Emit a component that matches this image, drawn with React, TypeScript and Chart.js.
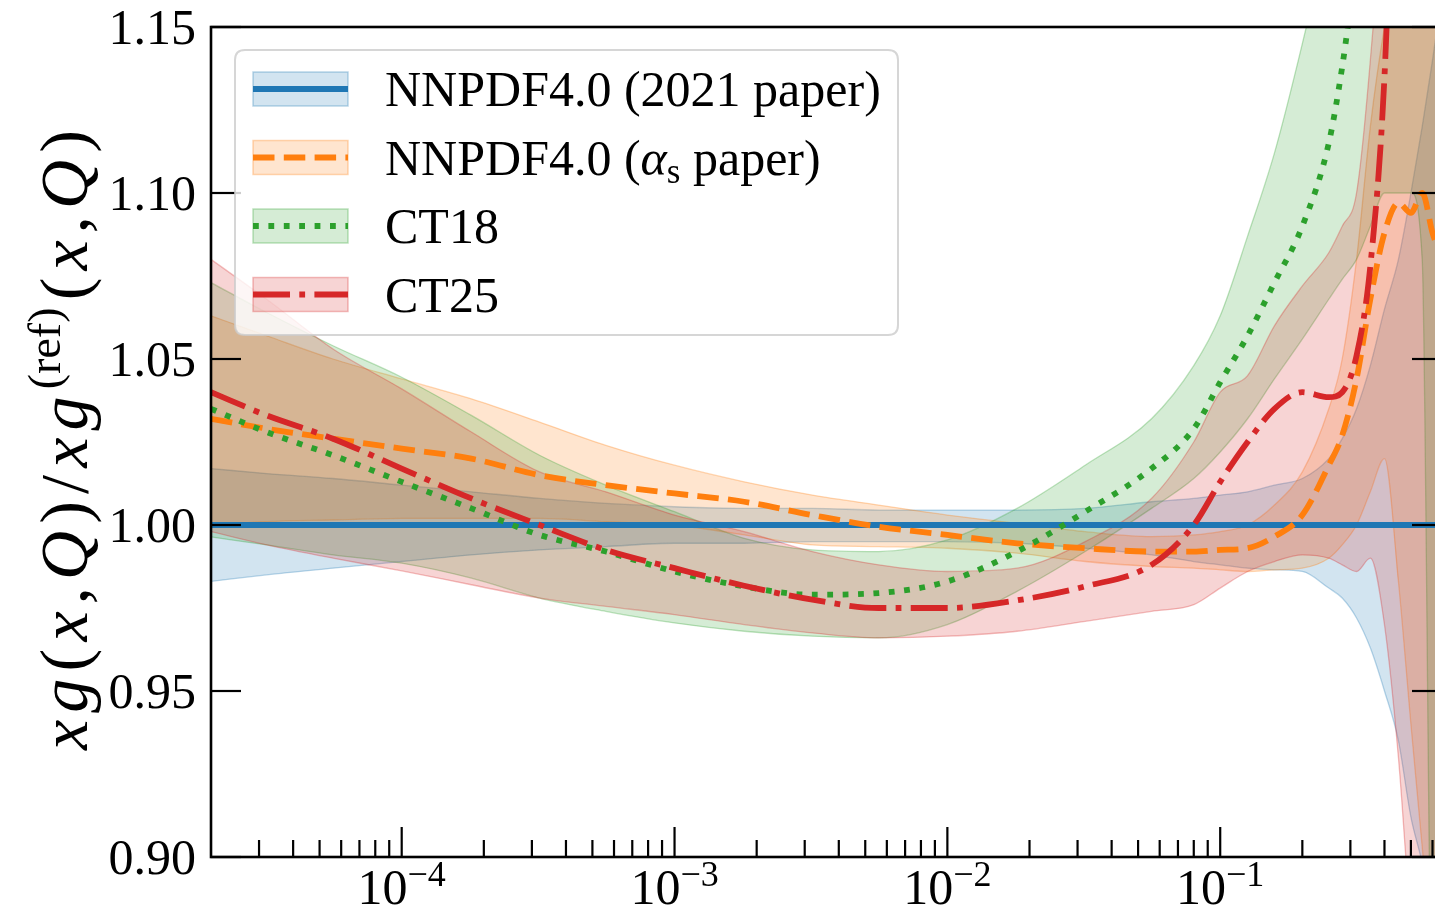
import React, { useEffect, useRef } from "react";
import { Chart, registerables } from "chart.js";

Chart.register(...registerables);

// ---------------- data ----------------
const xValues = [2.0e-5, 3.2e-5, 5.6e-5, 1e-4, 1.8e-4, 3.2e-4, 5.6e-4, 1e-3, 1.8e-3, 3.2e-3, 5.6e-3, 1e-2, 1.8e-2, 3.2e-2, 5.6e-2, 8e-2, 0.1, 0.126, 0.158, 0.2, 0.25, 0.28, 0.316, 0.355, 0.4, 0.45, 0.5, 0.55, 0.6, 0.65];

const nnpdf21Central = [1, 1, 1, 1, 1, 1, 1, 1, 1, 1, 1, 1, 1, 1, 1, 1, 1, 1, 1, 1, 1, 1, 1, 1, 1, 1, 1, 1, 1, 1];
const nnpdf21Lower = [0.983, 0.985, 0.987, 0.989, 0.991, 0.9925, 0.9935, 0.9945, 0.9945, 0.995, 0.995, 0.995, 0.9945, 0.993, 0.991, 0.989, 0.988, 0.987, 0.9865, 0.986, 0.981, 0.978, 0.972, 0.963, 0.95, 0.935, 0.912, 0.898, 0.88, 0.86];
const nnpdf21Upper = [1.017, 1.0155, 1.014, 1.012, 1.01, 1.008, 1.0065, 1.0055, 1.005, 1.005, 1.0045, 1.0045, 1.0045, 1.005, 1.007, 1.008, 1.009, 1.01, 1.012, 1.014, 1.02, 1.026, 1.035, 1.048, 1.065, 1.08, 1.1, 1.12, 1.14, 1.16];

const nnpdfAsCentral = [1.032, 1.029, 1.026, 1.023, 1.02, 1.015, 1.012, 1.0095, 1.007, 1.003, 0.9995, 0.997, 0.9945, 0.993, 0.992, 0.992, 0.9925, 0.993, 0.9965, 1.003, 1.018, 1.027, 1.044, 1.068, 1.088, 1.097, 1.094, 1.1, 1.088, 1.08];
const nnpdfAsLower = [1.0, 1.001, 1.0015, 1.002, 1.002, 1.002, 1.001, 1.0, 0.997, 0.994, 0.9935, 0.993, 0.9915, 0.989, 0.9875, 0.987, 0.9865, 0.986, 0.9865, 0.987, 0.99, 0.994, 1.0, 1.01, 1.02, 0.983, 0.94, 0.903, 0.87, 0.85];
const nnpdfAsUpper = [1.063, 1.057, 1.05, 1.044, 1.038, 1.031, 1.024, 1.018, 1.013, 1.009, 1.006, 1.003, 1.0005, 0.998, 0.9965, 0.997, 0.998, 1.0, 1.006, 1.016, 1.035, 1.05, 1.08, 1.12, 1.15, 1.17, 1.18, 1.18, 1.18, 1.18];

const ct18Central = [1.035, 1.028, 1.021, 1.013, 1.005, 0.997, 0.992, 0.986, 0.9815, 0.979, 0.9795, 0.983, 0.992, 1.004, 1.017, 1.029, 1.043, 1.057, 1.073, 1.09, 1.115, 1.138, 1.17, 1.2, 1.23, 1.26, 1.28, 1.3, 1.31, 1.32];
const ct18Lower = [0.9964, 0.994, 0.991, 0.9885, 0.984, 0.978, 0.974, 0.9705, 0.968, 0.9665, 0.966, 0.97, 0.98, 0.992, 1.005, 1.014, 1.022, 1.032, 1.044, 1.056, 1.068, 1.074, 1.08, 1.09, 1.1, 1.1, 1.1, 1.08, 0.85, 0.85];
const ct18Upper = [1.073, 1.064, 1.054, 1.0445, 1.033, 1.021, 1.012, 1.004, 0.996, 0.9925, 0.992, 0.9955, 1.005, 1.018, 1.032, 1.048, 1.063, 1.087, 1.112, 1.145, 1.18, 1.2, 1.22, 1.25, 1.28, 1.3, 1.3, 1.3, 1.3, 1.3];

const ct25Central = [1.04, 1.033, 1.026, 1.017, 1.008, 1.0, 0.9925, 0.987, 0.9817, 0.9775, 0.975, 0.975, 0.9773, 0.9815, 0.988, 1.0, 1.013, 1.025, 1.035, 1.04, 1.0385, 1.04, 1.051, 1.078, 1.135, 1.25, 1.3, 1.3, 1.3, 1.3];
const ct25Lower = [0.998, 0.994, 0.99, 0.9862, 0.982, 0.978, 0.9755, 0.973, 0.97, 0.9675, 0.966, 0.9665, 0.968, 0.971, 0.974, 0.976, 0.981, 0.986, 0.989, 0.991, 0.99, 0.988, 0.986, 0.99, 0.97, 0.93, 0.88, 0.85, 0.85, 0.85];
const ct25Upper = [1.08, 1.068, 1.053, 1.041, 1.028, 1.016, 1.01, 1.003, 0.998, 0.992, 0.988, 0.986, 0.987, 0.995, 1.008, 1.025, 1.04, 1.045, 1.06, 1.072, 1.082, 1.09, 1.1, 1.14, 1.2, 1.3, 1.3, 1.3, 1.3, 1.3];

const seriesLabels = ["NNPDF4.0 (2021 paper)", "NNPDF4.0 (α_s paper)", "CT18", "CT25"];

const yTicks = [0.9, 0.95, 1.0, 1.05, 1.1, 1.15];
const yTickLabels = ["0.90", "0.95", "1.00", "1.05", "1.10", "1.15"];
const xMajorTicks = [1e-4, 1e-3, 1e-2, 1e-1];
const xMajorExponents = ["−4", "−3", "−2", "−1"];
const xMinorTicks = [3e-5, 4e-5, 5e-5, 6e-5, 7e-5, 8e-5, 9e-5, 2e-4, 3e-4, 4e-4, 5e-4, 6e-4, 7e-4, 8e-4, 9e-4, 2e-3, 3e-3, 4e-3, 5e-3, 6e-3, 7e-3, 8e-3, 9e-3, 2e-2, 3e-2, 4e-2, 5e-2, 6e-2, 7e-2, 8e-2, 9e-2, 2e-1, 3e-1, 4e-1, 5e-1, 6e-1];

// ---------------- styles ----------------
const SERIF = '"Liberation Serif", "DejaVu Serif", serif';
const COLORS = ["#1f77b4", "#ff7f0e", "#2ca02c", "#d62728"];
const LW = 5.8;
const DASHES: number[][] = [[], [21.5, 9.3], [5.8, 9.6], [37, 9.3, 5.8, 9.3]];

function rgba(hex: string, a: number) {
  const n = parseInt(hex.slice(1), 16);
  return `rgba(${(n >> 16) & 255},${(n >> 8) & 255},${n & 255},${a})`;
}

type Run = { t: string; font: string; dy?: number };

function drawRuns(ctx: CanvasRenderingContext2D, runs: Run[], x: number, y: number, align: "left" | "center" | "right", gap = 0) {
  const widths = runs.map((r) => {
    ctx.font = r.font;
    return ctx.measureText(r.t).width;
  });
  const total = widths.reduce((a, b) => a + b, 0) + gap * (runs.length - 1);
  let cx = align === "left" ? x : align === "center" ? x - total / 2 : x - total;
  ctx.textAlign = "left";
  ctx.textBaseline = "alphabetic";
  runs.forEach((r, i) => {
    ctx.font = r.font;
    ctx.fillText(r.t, cx, y + (r.dy || 0));
    cx += widths[i] + gap;
  });
  return total;
}

function labelRuns(label: string, size: number): Run[] {
  const parts = label.split("α_s");
  if (parts.length === 1) return [{ t: label, font: `${size}px ${SERIF}` }];
  return [
    { t: parts[0], font: `${size}px ${SERIF}` },
    { t: "α", font: `italic ${size}px ${SERIF}` },
    { t: "s", font: `${Math.round(size * 0.7)}px ${SERIF}`, dy: 8 },
    { t: parts[1], font: `${size}px ${SERIF}` },
  ];
}

const axesPlugin = {
  id: "mplAxes",
  afterDatasetsDraw(chart: any) {
    const { ctx, chartArea: a, scales } = chart;
    const xs = scales.x;
    const ys = scales.y;
    ctx.save();
    ctx.fillStyle = "#000";
    ctx.strokeStyle = "#000";

    // ticks
    ctx.lineWidth = 2.2;
    ctx.lineCap = "butt";
    ctx.setLineDash([]);
    const seg = (x1: number, y1: number, x2: number, y2: number) => {
      ctx.beginPath();
      ctx.moveTo(x1, y1);
      ctx.lineTo(x2, y2);
      ctx.stroke();
    };
    yTicks.forEach((v) => {
      const py = ys.getPixelForValue(v);
      seg(a.left, py, a.left + 30, py);
      seg(a.right, py, a.right - 30, py);
    });
    xMajorTicks.forEach((v) => {
      const px = xs.getPixelForValue(v);
      seg(px, a.bottom, px, a.bottom - 30);
    });
    xMinorTicks.forEach((v) => {
      const px = xs.getPixelForValue(v);
      seg(px, a.bottom, px, a.bottom - 17);
    });

    // spines
    ctx.lineWidth = 2.6;
    ctx.strokeRect(a.left, a.top, a.right - a.left, a.bottom - a.top);

    // y tick labels
    ctx.font = `50px ${SERIF}`;
    ctx.textAlign = "right";
    ctx.textBaseline = "alphabetic";
    yTicks.forEach((v, i) => {
      const py = ys.getPixelForValue(v);
      ctx.fillText(yTickLabels[i], 196, py + 17);
    });

    // x tick labels
    xMajorTicks.forEach((v, i) => {
      const px = xs.getPixelForValue(v);
      drawRuns(
        ctx,
        [
          { t: "10", font: `50px ${SERIF}` },
          { t: xMajorExponents[i], font: `36px ${SERIF}`, dy: -18 },
        ],
        px,
        904,
        "center"
      );
    });

    // y axis title
    const F = 68;
    const it = `italic ${F}px ${SERIF}`;
    const rm = `${F}px ${SERIF}`;
    const sup = `${Math.round(F * 0.68)}px ${SERIF}`;
    const titleRuns: Run[] = [
      { t: "x", font: it },
      { t: "g", font: it },
      { t: "(", font: rm },
      { t: "x", font: it },
      { t: ",", font: rm },
      { t: "Q", font: it },
      { t: ")", font: rm },
      { t: "/", font: rm },
      { t: "x", font: it },
      { t: "g", font: it },
      { t: "(ref)", font: sup, dy: -27 },
      { t: "(", font: rm },
      { t: "x", font: it },
      { t: ",", font: rm },
      { t: "Q", font: it },
      { t: ")", font: rm },
    ];
    let baseW = 0;
    titleRuns.forEach((r) => {
      ctx.font = r.font;
      baseW += ctx.measureText(r.t).width;
    });
    const gap = Math.max(0, (620 - baseW) / (titleRuns.length - 1));
    ctx.save();
    ctx.translate(87, 440);
    ctx.rotate(-Math.PI / 2);
    drawRuns(ctx, titleRuns, 0, 0, "center", gap);
    ctx.restore();

    // legend
    const lx = 235, ly = 50, lw = 663, lh = 285, rad = 10;
    ctx.beginPath();
    ctx.moveTo(lx + rad, ly);
    ctx.lineTo(lx + lw - rad, ly);
    ctx.quadraticCurveTo(lx + lw, ly, lx + lw, ly + rad);
    ctx.lineTo(lx + lw, ly + lh - rad);
    ctx.quadraticCurveTo(lx + lw, ly + lh, lx + lw - rad, ly + lh);
    ctx.lineTo(lx + rad, ly + lh);
    ctx.quadraticCurveTo(lx, ly + lh, lx, ly + lh - rad);
    ctx.lineTo(lx, ly + rad);
    ctx.quadraticCurveTo(lx, ly, lx + rad, ly);
    ctx.closePath();
    ctx.fillStyle = "rgba(255,255,255,0.8)";
    ctx.fill();
    ctx.strokeStyle = "rgba(204,204,204,0.8)";
    ctx.lineWidth = 2;
    ctx.stroke();

    seriesLabels.forEach((lab, k) => {
      const cy = 89 + k * 68.5;
      const hx = 253, hw = 95, hh = 34;
      ctx.fillStyle = rgba(COLORS[k], 0.2);
      ctx.fillRect(hx, cy - hh / 2, hw, hh);
      ctx.strokeStyle = rgba(COLORS[k], 0.3);
      ctx.lineWidth = 1.5;
      ctx.setLineDash([]);
      ctx.strokeRect(hx, cy - hh / 2, hw, hh);
      ctx.strokeStyle = COLORS[k];
      ctx.lineWidth = LW;
      ctx.lineCap = "butt";
      ctx.setLineDash(DASHES[k]);
      ctx.beginPath();
      ctx.moveTo(hx, cy);
      ctx.lineTo(hx + hw, cy);
      ctx.stroke();
      ctx.setLineDash([]);
      ctx.fillStyle = "#000";
      drawRuns(ctx, labelRuns(lab, 50), 385, cy + 17, "left");
    });

    ctx.restore();
  },
};

export default function App() {
  const ref = useRef<HTMLCanvasElement>(null);
  useEffect(() => {
    const seriesDefs = [
      { central: nnpdf21Central, lower: nnpdf21Lower, upper: nnpdf21Upper },
      { central: nnpdfAsCentral, lower: nnpdfAsLower, upper: nnpdfAsUpper },
      { central: ct18Central, lower: ct18Lower, upper: ct18Upper },
      { central: ct25Central, lower: ct25Lower, upper: ct25Upper },
    ];
    const pts = (arr: number[]) => xValues.map((x, i) => ({ x, y: arr[i] }));
    const datasets: any[] = [];
    seriesDefs.forEach((s, k) => {
      const order = 13 - k;
      datasets.push({
        label: seriesLabels[k] + " lower",
        data: pts(s.lower),
        borderColor: rgba(COLORS[k], 0.3),
        borderWidth: 1.3,
        backgroundColor: "transparent",
        fill: false,
        order,
        pointRadius: 0,
        cubicInterpolationMode: "monotone",
      });
      datasets.push({
        label: seriesLabels[k] + " upper",
        data: pts(s.upper),
        borderColor: rgba(COLORS[k], 0.3),
        borderWidth: 1.3,
        backgroundColor: rgba(COLORS[k], 0.2),
        fill: "-1",
        order,
        pointRadius: 0,
        cubicInterpolationMode: "monotone",
      });
    });
    seriesDefs.forEach((s, k) => {
      datasets.push({
        label: seriesLabels[k],
        data: pts(s.central),
        borderColor: COLORS[k],
        borderWidth: LW,
        borderDash: DASHES[k],
        borderCapStyle: "butt",
        borderJoinStyle: "round",
        fill: false,
        order: 3 - k,
        pointRadius: 0,
        cubicInterpolationMode: "monotone",
      });
    });

    const chart = new Chart(ref.current as HTMLCanvasElement, {
      type: "line",
      data: { datasets },
      options: {
        animation: false,
        responsive: false,
        devicePixelRatio: 1,
        layout: { padding: { left: 211, right: 8, top: 27, bottom: 53 } },
        scales: {
          x: { type: "logarithmic", min: 2e-5, max: 0.65, display: false },
          y: { type: "linear", min: 0.9, max: 1.15, display: false },
        },
        plugins: {
          legend: { display: false },
          tooltip: { enabled: false },
        },
        elements: { point: { radius: 0 } },
      } as any,
      plugins: [axesPlugin],
    });
    return () => chart.destroy();
  }, []);

  return (
    <div style={{ position: "fixed", left: 0, top: 0, width: 1435, height: 910, overflow: "hidden", background: "#fff" }}>
      <canvas ref={ref} width={1450} height={910} style={{ display: "block", width: 1450, height: 910 }} />
    </div>
  );
}
